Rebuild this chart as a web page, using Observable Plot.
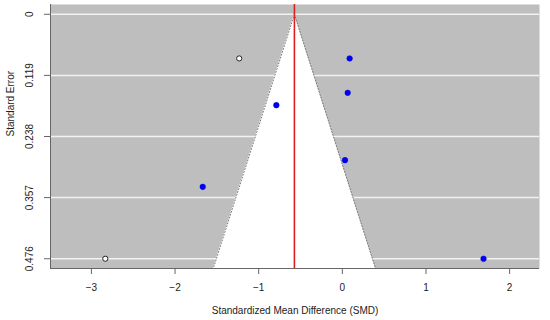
<!DOCTYPE html>
<html>
<head>
<meta charset="utf-8">
<script src="https://cdn.jsdelivr.net/npm/d3@7"></script>
<script src="https://cdn.jsdelivr.net/npm/@observablehq/plot@0.6"></script>
<style>
  html, body { margin: 0; padding: 0; background: #fff; }
  #chart svg { display: block; }
</style>
</head>
<body>
<div id="chart"></div>
<script>
// Observed studies (blue)
const obsSMD = [0.087, 0.064, -0.789, 0.032, -1.669, 1.688];
const obsSE  = [0.086, 0.153, 0.177, 0.284, 0.336, 0.476];
// Imputed (trim-and-fill) studies (open circles)
const fillSMD = [-1.233, -2.834];
const fillSE  = [0.086, 0.476];
// Pooled estimate and funnel settings
const estimate = -0.573;
const zCrit = 1.96;
const seLimit = 0.495;
// Axis ticks
const xTicks = [-3, -2, -1, 0, 1, 2];
const yTicks = [0, 0.119, 0.238, 0.357, 0.476];
const yTickLabels = ["0", "0.119", "0.238", "0.357", "0.476"];

const observed = obsSMD.map((d, i) => ({smd: d, se: obsSE[i]}));
const filled = fillSMD.map((d, i) => ({smd: d, se: fillSE[i]}));
const funnel = [0, seLimit].map(se => ({se, lo: estimate - zCrit * se, hi: estimate + zCrit * se}));

const font = "Liberation Sans, Arial, Helvetica, sans-serif";

const chart = Plot.plot({
  width: 550,
  height: 320,
  marginLeft: 50,
  marginRight: 11,
  marginTop: 4,
  marginBottom: 52,
  style: {fontFamily: font, fontSize: "10px", color: "#222", background: "#fff"},
  x: {domain: [-3.489, 2.357]},
  y: {domain: [-0.019, seLimit], reverse: true},
  marks: [
    Plot.frame({fill: "#bebebe", stroke: null}),
    Plot.ruleY(yTicks, {stroke: "#f2f2f2", strokeWidth: 1.5}),
    Plot.areaX(funnel, {y: "se", x1: "lo", x2: "hi", fill: "white"}),
    Plot.line(funnel, {x: "lo", y: "se", stroke: "#777", strokeDasharray: "1,2", strokeWidth: 1}),
    Plot.line(funnel, {x: "hi", y: "se", stroke: "#777", strokeDasharray: "1,2", strokeWidth: 1}),
    Plot.ruleX([estimate], {stroke: "#e0201c", strokeWidth: 1.6}),
    Plot.dot(observed, {x: "smd", y: "se", r: 2.8, fill: "#0000ee", stroke: "#0000ee", strokeWidth: 0.5}),
    Plot.dot(filled, {x: "smd", y: "se", r: 2.6, fill: "white", stroke: "#222", strokeWidth: 1}),
    Plot.axisX({ticks: xTicks, tickFormat: d => d < 0 ? "\u2212" + Math.abs(d) : String(d), tickSize: 6, tickPadding: 9, stroke: "#666", label: null, fontSize: 10}),
    Plot.axisY({ticks: yTicks, tickFormat: (d, i) => yTickLabels[i], tickSize: 6, tickRotate: -90, tickPadding: 12, stroke: "#666", label: null, fontSize: 10}),
    Plot.ruleY([seLimit], {stroke: "#666", strokeWidth: 1}),
    Plot.ruleX([-3.489], {stroke: "#666", strokeWidth: 1}),
    Plot.text(["Standardized Mean Difference (SMD)"], {frameAnchor: "bottom", dy: 45, fontSize: 10, fill: "#222"}),
    Plot.text(["Standard Error"], {frameAnchor: "left", dx: -40, rotate: -90, fontSize: 10, fill: "#222"})
  ]
});
document.getElementById("chart").appendChild(chart);
</script>
</body>
</html>
